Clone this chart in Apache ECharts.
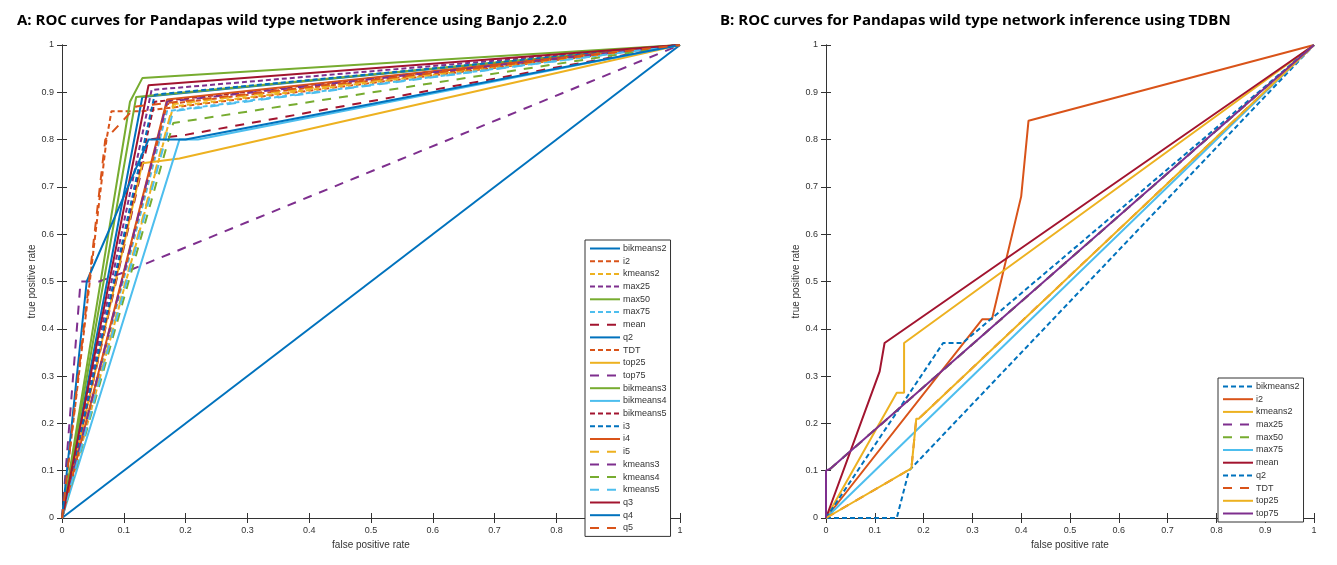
<!DOCTYPE html>
<html>
<head>
<meta charset="utf-8">
<script src="https://cdn.jsdelivr.net/npm/echarts@6/dist/echarts.min.js"></script>
<style>html,body{margin:0;background:#fff}#chart{width:1337px;height:565px}</style>
</head>
<body>
<div id="chart"></div>
<script>
// matlab default colour order
var colors = ['#0072BD', '#D95319', '#EDB120', '#7E2F8E', '#77AC30', '#4DBEEE', '#A2142F'];

var banjoNames = ['bikmeans2', 'i2', 'kmeans2', 'max25', 'max50', 'max75', 'mean', 'q2', 'TDT', 'top25', 'top75',
	'bikmeans3', 'bikmeans4', 'bikmeans5', 'i3', 'i4', 'i5', 'kmeans3', 'kmeans4', 'kmeans5', 'q3', 'q4', 'q5'];
var banjoStyles = ['solid', 'dash', 'dash', 'dash', 'solid', 'dash', 'long', 'solid', 'dash', 'solid', 'long',
	'solid', 'solid', 'dash', 'dash', 'solid', 'long', 'long', 'long', 'long', 'solid', 'solid', 'long'];
var banjoPoints = [
	[[0, 0], [1, 1]],
	[[0, 0], [0.072, 0.8], [0.08, 0.86], [0.13, 0.86], [1, 1]],
	[[0, 0], [0.18, 0.87], [1, 1]],
	[[0, 0], [0.145, 0.905], [1, 1]],
	[[0, 0], [0.11, 0.88], [0.13, 0.93], [1, 1]],
	[[0, 0], [0.17, 0.86], [1, 1]],
	[[0, 0], [0.14, 0.80], [0.2, 0.81], [1, 1]],
	[[0, 0], [0.13, 0.89], [1, 1]],
	[[0, 0], [0.17, 0.875], [1, 1]],
	[[0, 0], [0.13, 0.75], [0.19, 0.76], [1, 1]],
	[[0, 0], [0.03, 0.5], [0.06, 0.5], [0.11, 0.524], [1, 1]],
	[[0, 0], [0.12, 0.89], [1, 1]],
	[[0, 0], [0.19, 0.80], [0.22, 0.80], [1, 1]],
	[[0, 0], [0.15, 0.88], [1, 1]],
	[[0, 0], [0.15, 0.895], [1, 1]],
	[[0, 0], [0.17, 0.885], [1, 1]],
	[[0, 0], [0.18, 0.875], [1, 1]],
	[[0, 0], [0.17, 0.88], [1, 1]],
	[[0, 0], [0.18, 0.835], [1, 1]],
	[[0, 0], [0.18, 0.86], [1, 1]],
	[[0, 0], [0.14, 0.915], [1, 1]],
	[[0, 0], [0.04, 0.5], [0.14, 0.80], [0.2, 0.80], [1, 1]],
	[[0, 0], [0.07, 0.80], [0.12, 0.87], [1, 1]]
];

var tdbnNames = ['bikmeans2', 'i2', 'kmeans2', 'max25', 'max50', 'max75', 'mean', 'q2', 'TDT', 'top25', 'top75'];
var tdbnStyles = ['dash', 'solid', 'solid', 'long', 'long', 'solid', 'solid', 'dash', 'long', 'solid', 'solid'];
var tdbnPoints = [
	[[0, 0], [0.145, 0], [0.17, 0.1], [1, 1]],
	[[0, 0], [0.32, 0.42], [0.34, 0.42], [0.40, 0.68], [0.415, 0.84], [1, 1]],
	[[0, 0], [0.145, 0.265], [0.16, 0.265], [0.16, 0.37], [1, 1]],
	[[0, 0], [0, 0.1], [0.01, 0.105], [1, 1]],
	[[0, 0], [0, 0.1], [0.01, 0.105], [1, 1]],
	[[0, 0], [1, 1]],
	[[0, 0], [0.11, 0.31], [0.12, 0.37], [1, 1]],
	[[0, 0], [0.24, 0.37], [0.28, 0.37], [1, 1]],
	[[0, 0], [0.175, 0.105], [0.185, 0.21], [0.19, 0.21], [1, 1]],
	[[0, 0], [0.175, 0.105], [0.185, 0.21], [0.19, 0.21], [1, 1]],
	[[0, 0], [0, 0.1], [0.01, 0.105], [1, 1]]
];

var dashMap = {solid: 'solid', dash: [5, 3], long: [9, 8]};
var tickFmt = function (v) {
	return (v === 0 || v === 1) ? String(v) : v.toFixed(1);
};

function makeAxes() {
	var base = {
		type: 'value', min: 0, max: 1, interval: 0.1,
		axisLine: {show: true, lineStyle: {color: '#333', width: 1}},
		axisTick: {inside: true, length: 5, lineStyle: {color: '#333'}},
		splitLine: {show: false},
		axisLabel: {formatter: tickFmt, fontSize: 9, color: '#333', fontFamily: 'Liberation Sans'},
		nameTextStyle: {fontSize: 10, color: '#333', fontFamily: 'Liberation Sans'}
	};
	var x = Object.assign({}, base, {position: 'bottom', name: 'false positive rate', nameLocation: 'middle', nameGap: 20});
	var xt = Object.assign({}, base, {position: 'top', axisLabel: {show: false}});
	var y = Object.assign({}, base, {position: 'left', name: 'true positive rate', nameLocation: 'middle', nameGap: 24});
	var yr = Object.assign({}, base, {position: 'right', axisLabel: {show: false}});
	return {x: [x, xt], y: [y, yr]};
}

var a0 = makeAxes(), a1 = makeAxes();
var series = [];
function addSeries(names, styles, pts, axisOffset) {
	var legendData = [];
	for (var i = 0; i < names.length; i++) {
		var c = colors[i % colors.length];
		series.push({
			name: names[i], type: 'line', xAxisIndex: axisOffset, yAxisIndex: axisOffset,
			data: pts[i], symbol: 'none', animation: false,
			lineStyle: {color: c, width: 2, type: dashMap[styles[i]]},
			itemStyle: {color: c}
		});
		legendData.push({name: names[i], lineStyle: {color: c, width: 2, type: dashMap[styles[i]]}, itemStyle: {color: c, opacity: 0}});
	}
	return legendData;
}
var leg0 = addSeries(banjoNames, banjoStyles, banjoPoints, 0);
var leg1 = addSeries(tdbnNames, tdbnStyles, tdbnPoints, 2);

var legendBase = {
	orient: 'vertical', itemWidth: 30, itemHeight: 8, itemGap: 3.7, padding: [4, 4, 4, 4],
	borderColor: '#333', borderWidth: 1, backgroundColor: '#fff',
	textStyle: {fontSize: 9, color: '#333', fontFamily: 'Liberation Sans', padding: [0, 0, 0, -2]},
	selectedMode: false
};

var chart = echarts.init(document.getElementById('chart'));
chart.setOption({
	animation: false,
	title: [
		{text: 'A: ROC curves for Pandapas wild type network inference using Banjo 2.2.0', left: 12, top: 8,
			textStyle: {fontSize: 15, fontWeight: 'bold', color: '#000', fontFamily: 'Open Sans'}},
		{text: 'B: ROC curves for Pandapas wild type network inference using TDBN', left: 715, top: 8,
			textStyle: {fontSize: 15, fontWeight: 'bold', color: '#000', fontFamily: 'Open Sans'}}
	],
	grid: [
		{left: 62, right: 657, top: 45, bottom: 47},
		{left: 826, right: 23, top: 45, bottom: 47}
	],
	xAxis: [a0.x[0], a0.x[1], a1.x[0], a1.x[1]].map(function (ax, k) { return Object.assign({}, ax, {gridIndex: k < 2 ? 0 : 1}); }),
	yAxis: [a0.y[0], a0.y[1], a1.y[0], a1.y[1]].map(function (ax, k) { return Object.assign({}, ax, {gridIndex: k < 2 ? 0 : 1}); }),
	legend: [
		Object.assign({}, legendBase, {data: leg0, left: 585, top: 240}),
		Object.assign({}, legendBase, {data: leg1, left: 1218, top: 378})
	],
	series: series
});
</script>
</body>
</html>
